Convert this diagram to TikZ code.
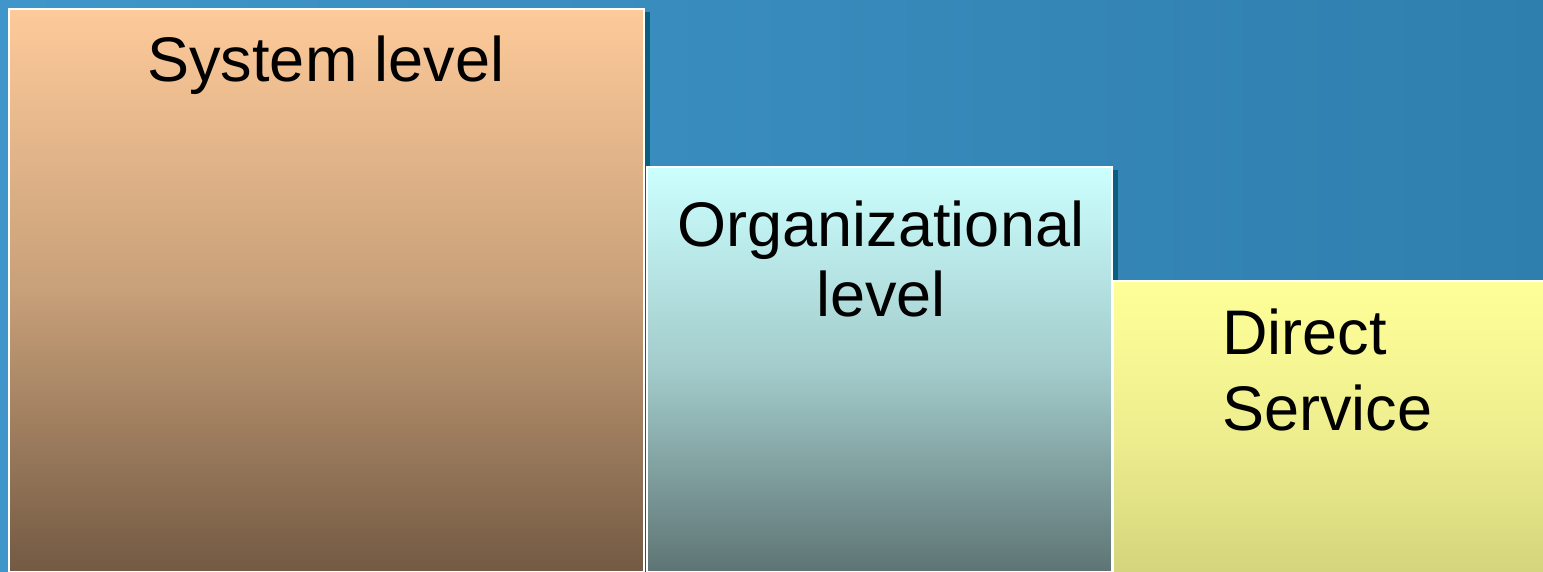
\documentclass[tikz,border=0pt]{standalone}
\usepackage{fontspec}
\setmainfont{Liberation Sans}
\begin{document}
\begin{tikzpicture}[x=1pt,y=-1pt,
  box/.style={rectangle, anchor=north west, inner sep=0pt, draw=white, line width=1.8pt},
  lbl/.style={inner sep=0pt, font=\fontsize{63}{70}\selectfont, text=black}]
\definecolor{bgA}{HTML}{4096CA}
\definecolor{bgB}{HTML}{2F7FAE}
\definecolor{shadowc}{HTML}{0B5F7E}
\definecolor{sysT}{HTML}{FDCA9A}
\definecolor{sysM}{HTML}{C8A079}
\definecolor{sysB}{HTML}{735A43}
\definecolor{orgT}{HTML}{CCFFFF}
\definecolor{orgM}{HTML}{A3CBCB}
\definecolor{orgB}{HTML}{5E7474}
\definecolor{dirT}{HTML}{FFFF99}
\definecolor{dirM}{HTML}{EDED8E}
\definecolor{dirB}{HTML}{CFCF79}
\useasboundingbox (0,0) rectangle (1543,572);
\clip (0,0) rectangle (1543,572);
\shade[left color=bgA, right color=bgB] (0,0) rectangle (1543,572);
% shadows
\fill[shadowc] (644,12) rectangle (650,580);
\fill[shadowc] (1111,170) rectangle (1118,580);
% boxes
\node[box, top color=sysT, bottom color=sysB, middle color=sysM, minimum width=635pt, minimum height=563pt] (sys) at (8,8) {};
\node[box, top color=orgT, bottom color=orgB, middle color=orgM, minimum width=465pt, minimum height=405pt] (org) at (646,166) {};
\node[box, top color=dirT, bottom color=dirB, middle color=dirM, minimum width=450pt, minimum height=320pt] (dir) at (1112,280) {};
% labels
\node[lbl, anchor=base] (t1) at (326,82) {System level};
\node[lbl, anchor=base] (t2a) at (881,247) {Organizational};
\node[lbl, anchor=base] (t2b) at (881,316.5) {level};
\node[lbl, anchor=base west] (t3a) at (1222,354) {Direct};
\node[lbl, anchor=base west] (t3b) at (1222,430) {Service};
\end{tikzpicture}
\end{document}
